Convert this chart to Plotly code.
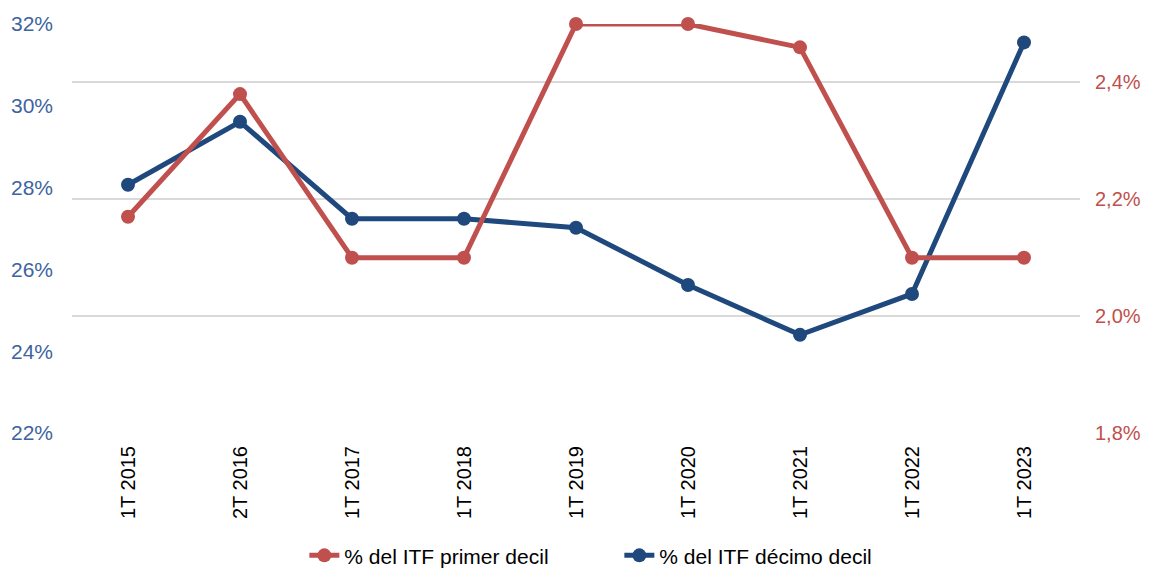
import plotly.graph_objects as go

# periodos (trimestre + año)
periodos = ["1T 2015", "2T 2016", "1T 2017", "1T 2018", "1T 2019",
            "1T 2020", "1T 2021", "1T 2022", "1T 2023"]

# % del ITF del primer decil (eje derecho)
primer_decil = [2.17, 2.38, 2.10, 2.10, 2.50, 2.50, 2.46, 2.10, 2.10]
# % del ITF del décimo decil (eje izquierdo)
decimo_decil = [28.07, 29.61, 27.24, 27.24, 27.02, 25.62, 24.40, 25.40, 31.55]

rojo = "#c0504d"
azul = "#1f497d"

fig = go.Figure()
fig.add_trace(go.Scatter(x=periodos, y=primer_decil, name="% del ITF primer decil",
                         mode="lines+markers", yaxis="y2", cliponaxis=False,
                         line=dict(color=rojo, width=5), marker=dict(size=14)))
fig.add_trace(go.Scatter(x=periodos, y=decimo_decil, name="% del ITF décimo decil",
                         mode="lines+markers", cliponaxis=False,
                         line=dict(color=azul, width=5), marker=dict(size=14)))

# la página añade 8px de margen al cuerpo, se compensa en los márgenes
fig.update_layout(
    width=1141, height=564,
    margin=dict(l=64, r=69, t=16, b=139, autoexpand=False),
    plot_bgcolor="white", paper_bgcolor="white",
    separators=",.",
    font=dict(family="Liberation Sans, Arial, sans-serif", size=21, color="black"),
    xaxis=dict(type="category", range=[-0.5, 8.5], tickangle=-90,
               showgrid=False, showline=False, ticks="", automargin=False,
               ticklabelstandoff=8, tickfont=dict(size=20, color="black")),
    yaxis=dict(range=[22, 32], dtick=2, ticksuffix="%", showgrid=False,
               zeroline=False, automargin=False, ticklabelstandoff=18,
               tickfont=dict(color="#3d64a0", size=21)),
    yaxis2=dict(range=[1.8, 2.5], tick0=1.8, dtick=0.2, tickformat=".1f",
                ticksuffix="%", overlaying="y", side="right", automargin=False,
                showgrid=True, gridcolor="#d9d9d9", gridwidth=2, zeroline=False,
                ticklabelstandoff=14, tickfont=dict(color=rojo, size=20)),
    legend=dict(orientation="h", x=0.543, xanchor="center", y=-0.30, yanchor="middle",
                font=dict(size=21), entrywidth=270),
)

fig.write_html("out.html")
